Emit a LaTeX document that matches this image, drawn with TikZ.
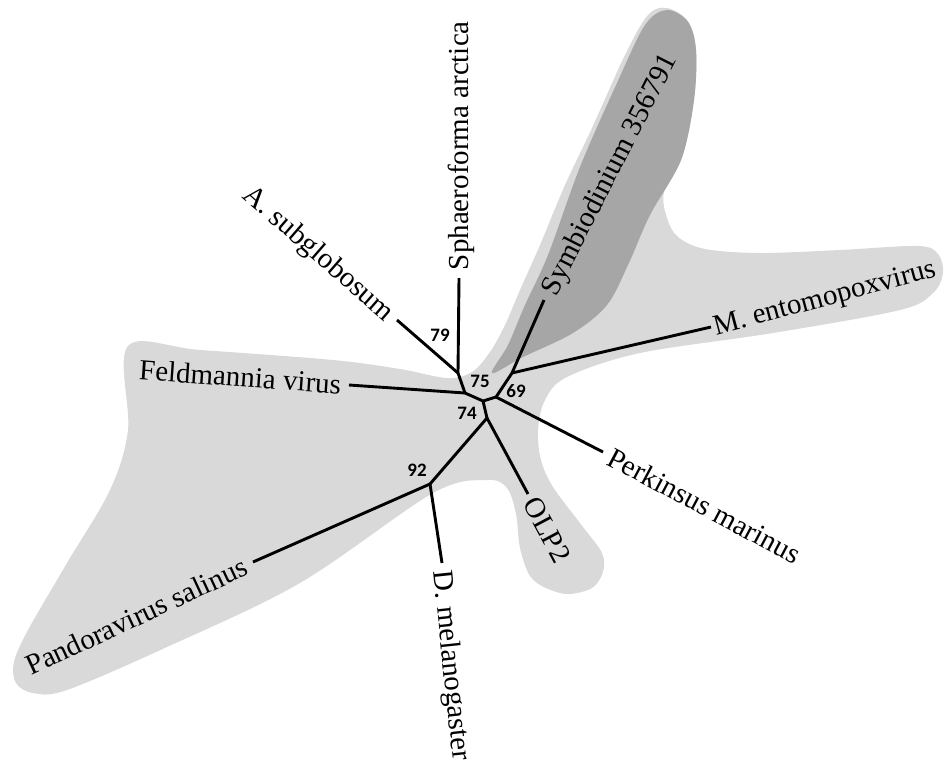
\documentclass[tikz,border=0pt]{standalone}
\usepackage{fontspec}
\setmainfont{Liberation Serif}
\newfontfamily\bootfont{Carlito}
\usepackage{xcolor}
\usepackage{tikz}
\usetikzlibrary{positioning}
\definecolor{paleshade}{RGB}{217,217,217}
\definecolor{deepshade}{RGB}{166,166,166}

\begin{document}
\begin{tikzpicture}[
  x=1pt, y=-1pt,
  leaf/.style={font=\fontsize{29}{34}\selectfont, inner sep=0pt,
    outer xsep=8pt, outer ysep=0pt, text height=19pt, text depth=0pt},
  boot/.style={font=\bootfont\bfseries\fontsize{19}{22}\selectfont, inner sep=0pt},
  branch/.style={line width=2.9pt}
]
\useasboundingbox (0,0) rectangle (944,764);

\fill[paleshade] plot[smooth cycle, tension=0.55] coordinates {
  (128,346) (200,350) (333,360) (400,369) (447,378) (472,372) (490,352)
  (505,325) (520,290) (540,245) (565,185) (592,128) (625,55) (648,15)
  (667,8) (688,21) (696,50) (694,100) (682,158) (664,192) (667,218)
  (678,237) (705,249) (760,253) (840,250) (918,246) (938,254) (943,273)
  (933,293) (900,310) (773,333) (640,353) (567,377) (545,400) (538,430)
  (541,460) (553,487) (583,527) (602,553) (603,572) (592,588) (568,594)
  (546,588) (530,576) (520,548) (516,514) (507,488) (487,480) (433,493)
  (300,583) (167,647) (67,690) (33,693) (16,683) (14,662) (28,630)
  (67,563) (110,490) (128,430)};
\fill[deepshade] plot[smooth cycle, tension=0.55] coordinates {
  (492,373) (508,345) (525,305) (548,255) (580,167) (617,83) (645,25)
  (667,10) (688,22) (696,50) (694,100) (681,160) (650,215) (628,265)
  (607,305) (573,333) (523,357)};

\coordinate (n79) at (458,373);
\coordinate (n75) at (465,393);
\coordinate (nmid) at (483,401);
\coordinate (n69) at (496,397);
\coordinate (nsym) at (512,373);
\coordinate (n74) at (487,418);
\coordinate (n92) at (430,484);

\node[leaf, rotate=90, anchor=west] (sph) at (459,278) {Sphaeroforma arctica};
\node[leaf, rotate=-41, anchor=east] (asub) at (397,320) {A. subglobosum};
\node[leaf, rotate=-4, anchor=east] (feld) at (349,385) {Feldmannia virus};
\node[leaf, rotate=63, anchor=west] (symb) at (544,300) {Symbiodinium 356791};
\node[leaf, rotate=15, anchor=west, outer xsep=3pt] (ento) at (711,327) {M. entomopoxvirus};
\node[leaf, rotate=-28, anchor=west] (perk) at (603,452) {Perkinsus marinus};
\node[leaf, rotate=-62, anchor=west, outer xsep=6pt] (olp) at (528,494) {OLP2};
\node[leaf, rotate=-84, anchor=west] (dmel) at (442,563) {D. melanogaster};
\node[leaf, rotate=25, anchor=east] (pand) at (253,562) {Pandoravirus salinus};

\draw[branch] (n79) -- (sph.west);
\draw[branch] (n79) -- (asub.east);
\draw[branch] (n79) -- (n75);
\draw[branch] (n75) -- (feld.east);
\draw[branch] (n75) -- (nmid) -- (n69) -- (nsym);
\draw[branch] (nsym) -- (symb.west);
\draw[branch] (nsym) -- (ento.west);
\draw[branch] (n69) -- (perk.west);
\draw[branch] (nmid) -- (n74);
\draw[branch] (n74) -- (olp.west);
\draw[branch] (n74) -- (n92);
\draw[branch] (n92) -- (dmel.west);
\draw[branch] (n92) -- (pand.east);

\node[boot] (b79) at (440,335) {79};
\node[boot] (b75) at (480,381) {75};
\node[boot] (b69) at (516,391) {69};
\node[boot] (b74) at (467,413) {74};
\node[boot] (b92) at (417,470) {92};
\end{tikzpicture}
\end{document}
